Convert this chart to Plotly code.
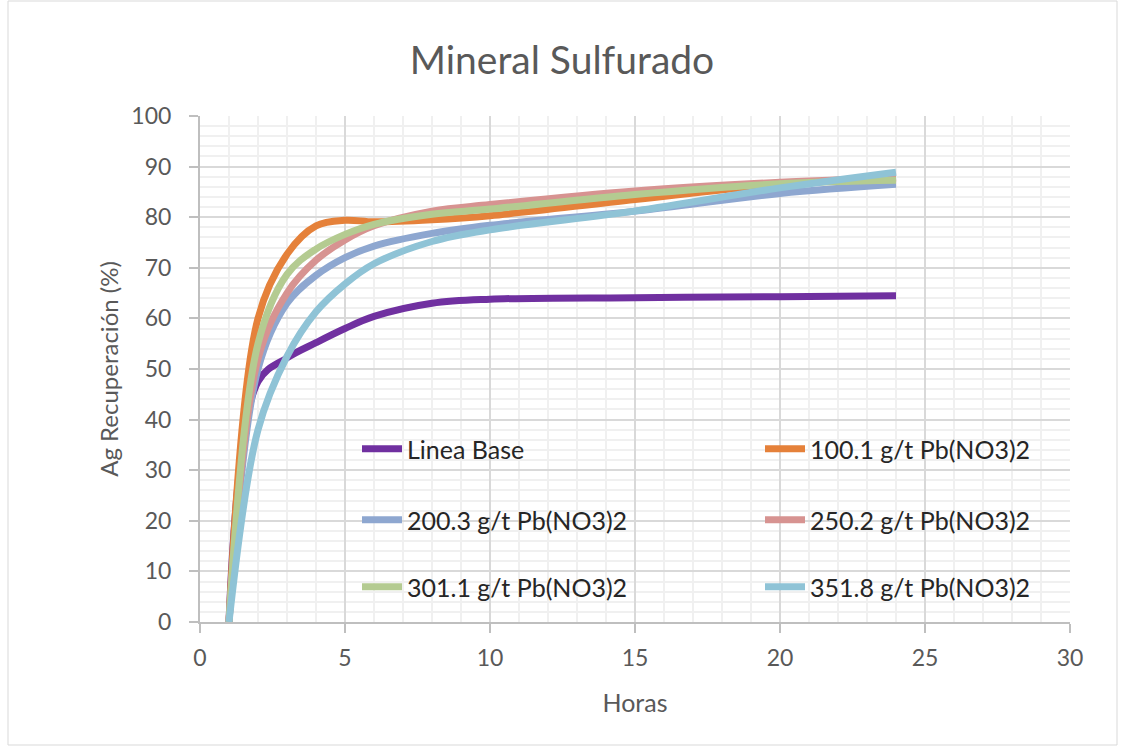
import plotly.graph_objects as go

horas = [1, 2, 3, 4, 5, 6, 8, 10, 15, 20, 24]

linea_base = [0, 47.5, 52.2, 55.2, 58.0, 60.4, 63.0, 63.8, 64.1, 64.3, 64.5]
pb_100 = [0, 60, 72.7, 78.3, 79.4, 79.1, 79.5, 80.3, 83.5, 86.5, 87.7]
pb_200 = [0, 50, 63, 68.5, 72, 74.3, 76.8, 78.4, 81.2, 84.7, 86.5]
pb_250 = [0, 52, 65, 71.5, 75.5, 78.3, 81.2, 82.5, 85.2, 86.9, 87.8]
pb_301 = [0, 55, 68.7, 73.7, 76.6, 78.6, 80.6, 81.6, 84.5, 86.6, 87.3]
pb_351 = [0, 38, 52.5, 61.3, 66.8, 70.8, 75.2, 77.5, 81.2, 85.8, 88.9]

names = ["Linea Base", "100.1 g/t Pb(NO3)2", "200.3 g/t Pb(NO3)2",
         "250.2 g/t Pb(NO3)2", "301.1 g/t Pb(NO3)2", "351.8 g/t Pb(NO3)2"]
series = [linea_base, pb_100, pb_200, pb_250, pb_301, pb_351]
colors = ["#7030A0", "#E5813A", "#8EA7D0", "#D79391", "#B4CB91", "#8FC3D6"]
legend_ids = ["legend", "legend2", "legend3", "legend4", "legend5", "legend6"]

FONT = "Lato, 'Open Sans', sans-serif"
GRAY = "#595959"

fig = go.Figure()
for name, ys, col, lg in zip(names, series, colors, legend_ids):
    fig.add_trace(go.Scatter(
        x=horas, y=ys, name=name, mode="lines",
        line=dict(color=col, width=7, shape="spline", smoothing=1.0),
        legend=lg,
    ))

L = 200; R = 54; T = 116; B = 126
W = 1124; H = 748
pw = W - L - R
ph = H - T - B

def px2x(px):
    return (px - L) / pw

def py2y(py):
    return (H - B - py) / ph

# legend anchor positions (pixel): two columns, three rows
col_px = [357, 760]
row_py = [449, 520, 587]

legend_layout = {}
for i, lg in enumerate(legend_ids):
    legend_layout[lg] = dict(
        orientation="h", bgcolor="rgba(0,0,0,0)",
        font=dict(family=FONT, size=25, color="#262626"),
        xanchor="left", yanchor="middle",
        x=px2x(col_px[i % 2]), y=py2y(row_py[i // 2]),
        itemwidth=40,
    )

fig.update_layout(
    width=W, height=H,
    margin=dict(l=L, r=R, t=T, b=B),
    paper_bgcolor="white", plot_bgcolor="white",
    font=dict(family=FONT, color=GRAY),
    title=dict(text="Mineral Sulfurado", x=0.5, xref="container", xanchor="center",
               y=1 - 60 / H, yanchor="middle",
               font=dict(family=FONT, size=39, color=GRAY)),
    showlegend=True,
    **legend_layout,
    xaxis=dict(range=[0, 30], dtick=5, tick0=0,
               showgrid=True, gridcolor="#D9D9D9", gridwidth=2,
               minor=dict(dtick=1, showgrid=True, gridcolor="#F0F0F0", gridwidth=2),
               showline=True, linecolor="#BFBFBF", linewidth=2,
               ticks="outside", ticklen=9, tickcolor="#BFBFBF", tickwidth=2,
               ticklabelstandoff=5,
               tickfont=dict(family=FONT, size=23, color=GRAY),
               zeroline=False,
               title=dict(text="Horas", font=dict(family=FONT, size=25, color=GRAY),
                          standoff=25)),
    yaxis=dict(range=[0, 100], dtick=10, tick0=0,
               showgrid=True, gridcolor="#D9D9D9", gridwidth=2,
               minor=dict(dtick=2, showgrid=True, gridcolor="#F0F0F0", gridwidth=2),
               showline=True, linecolor="#BFBFBF", linewidth=2,
               ticks="outside", ticklen=9, tickcolor="#BFBFBF", tickwidth=2,
               ticklabelstandoff=13,
               tickfont=dict(family=FONT, size=23, color=GRAY),
               zeroline=False,
               title=dict(text="Ag Recuperación (%)",
                          font=dict(family=FONT, size=24, color=GRAY),
                          standoff=6)),
)

fig.add_shape(type="rect", xref="paper", yref="paper",
              x0=px2x(8), x1=px2x(1117), y0=py2y(745), y1=py2y(1),
              line=dict(color="#D9D9D9", width=1), fillcolor="rgba(0,0,0,0)",
              layer="below")

fig.write_html("out.html")
